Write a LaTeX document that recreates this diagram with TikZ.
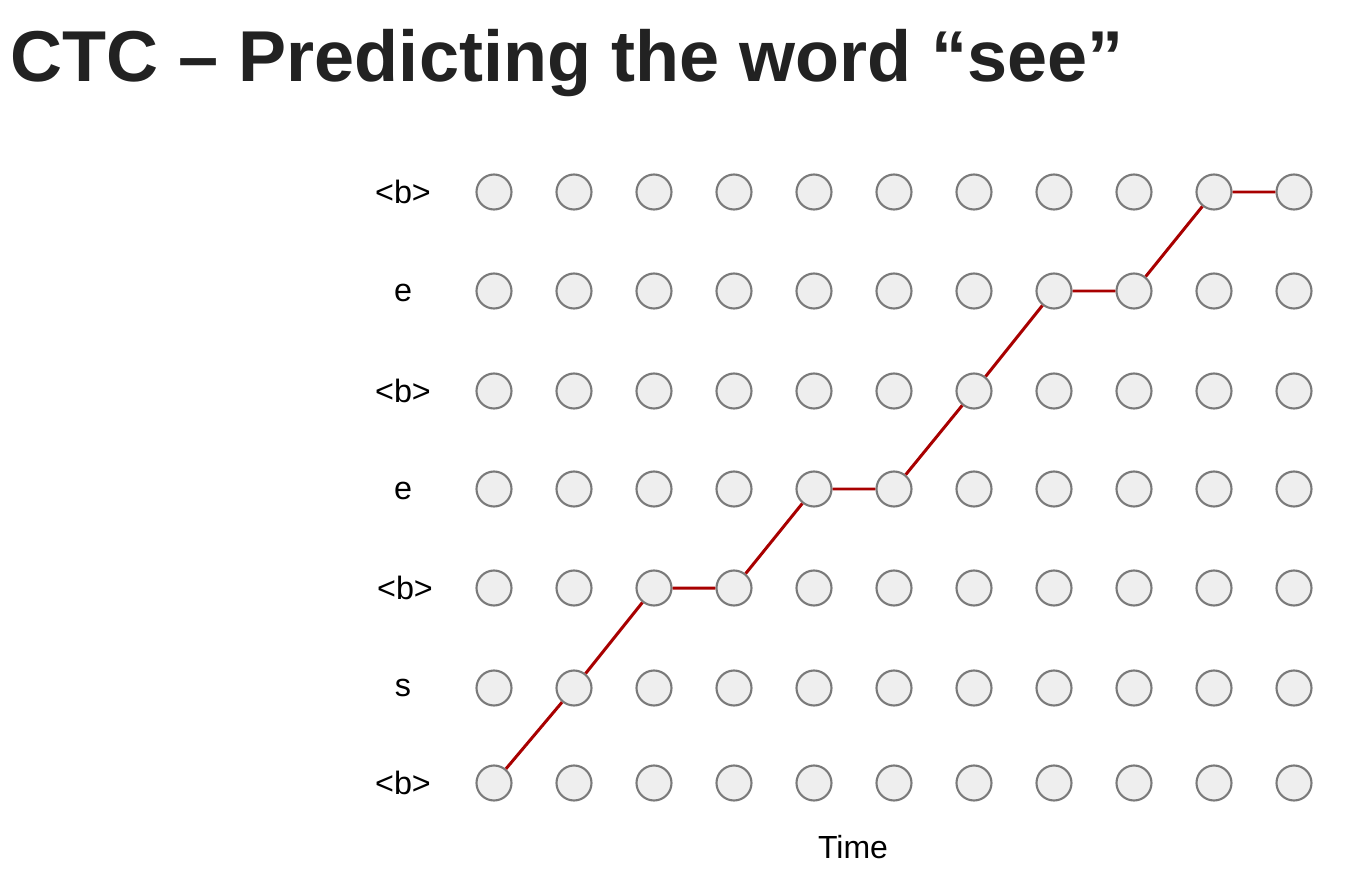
\documentclass[tikz,border=0pt]{standalone}
\usepackage{fontspec}
\setmainfont{Liberation Sans}
\usepackage{xcolor}
\definecolor{dotfill}{HTML}{EEEEEE}
\definecolor{dotline}{HTML}{7A7A7A}
\definecolor{pathred}{HTML}{A80000}
\definecolor{titlegray}{HTML}{222222}

\begin{document}
\begin{tikzpicture}[x=1cm, y=1cm,
    dot/.style={circle, draw=dotline, fill=dotfill, line width=0.6pt, inner sep=0pt, minimum size=0.35cm},
    rowlab/.style={inner sep=0pt, anchor=center, font=\fontsize{9.2pt}{11pt}\selectfont},
    redpath/.style={draw=pathred, line width=0.85pt}]
     \useasboundingbox (0,0) rectangle (13.5,-8.8);

     \node[anchor=base west, inner sep=0pt, text=titlegray, font=\fontsize{20.5pt}{24pt}\bfseries] (title) at (0.1,-0.81) {CTC – Predicting the word “see”};

     % row labels, bottom to top
     \node[rowlab] (l0) at (4.03,-7.83) {<b>};
     \node[rowlab] (l1) at (4.03,-6.88) {s};
     \node[rowlab] (l2) at (4.05,-5.88) {<b>};
     \node[rowlab] (l3) at (4.03,-4.91) {e};
     \node[rowlab] (l4) at (4.03,-3.91) {<b>};
     \node[rowlab] (l5) at (4.03,-2.93) {e};
     \node[rowlab] (l6) at (4.03,-1.92) {<b>};

     % grid of time steps
     \foreach \i in {0,...,10} {
         \foreach \j/\yy in {0/-7.83, 1/-6.88, 2/-5.88, 3/-4.89, 4/-3.91, 5/-2.91, 6/-1.92} {
             \node[dot] (c-\i-\j) at ({4.94+0.8*\i},\yy) {};
         }
     }

     % the alignment path
     \draw[redpath] (c-0-0) -- (c-1-1) -- (c-2-2) -- (c-3-2) -- (c-4-3) -- (c-5-3)
         -- (c-6-4) -- (c-7-5) -- (c-8-5) -- (c-9-6) -- (c-10-6);

     \node[font=\fontsize{9.1pt}{11pt}\selectfont, inner sep=0pt] (time) at (8.53,-8.47) {Time};
 \end{tikzpicture}
\end{document}
